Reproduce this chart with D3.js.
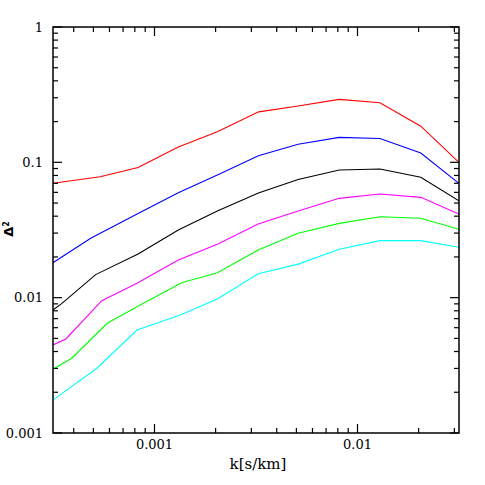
<!DOCTYPE html>
<html>
<head>
<meta charset="utf-8">
<script src="https://cdn.jsdelivr.net/npm/d3@7"></script>
<style>
  body { margin: 0; background: #fff; }
</style>
</head>
<body>
<div id="vis"></div>
<script>

// k values (s/km) and Delta^2 for each curve
var kRed     = [0.000316, 0.00054, 0.00083, 0.00131, 0.00204, 0.00326, 0.0051, 0.00813, 0.0129, 0.0205, 0.0316];
var dRed     = [0.070, 0.0783, 0.0916, 0.130, 0.168, 0.236, 0.261, 0.292, 0.276, 0.185, 0.100];

var kBlue    = [0.000316, 0.000485, 0.00083, 0.00131, 0.00204, 0.00325, 0.0051, 0.00813, 0.0129, 0.0205, 0.0316];
var dBlue    = [0.0181, 0.0275, 0.0419, 0.0597, 0.0807, 0.112, 0.136, 0.153, 0.150, 0.117, 0.070];

var kBlack   = [0.000316, 0.00035, 0.000513, 0.00083, 0.00131, 0.00204, 0.00325, 0.0051, 0.00813, 0.0129, 0.0205, 0.0316];
var dBlack   = [0.00811, 0.00908, 0.0148, 0.0210, 0.0316, 0.0437, 0.0593, 0.0746, 0.0878, 0.0893, 0.0775, 0.0520];

var kMagenta = [0.000316, 0.000366, 0.00055, 0.00082, 0.00131, 0.00204, 0.00324, 0.0051, 0.00813, 0.0129, 0.0205, 0.0316];
var dMagenta = [0.00447, 0.00495, 0.0095, 0.0128, 0.0190, 0.0248, 0.0350, 0.0437, 0.0542, 0.0583, 0.0551, 0.0415];

var kGreen   = [0.000316, 0.000391, 0.000585, 0.00082, 0.00136, 0.00204, 0.00324, 0.0051, 0.00813, 0.0129, 0.0205, 0.0316];
var dGreen   = [0.00296, 0.00357, 0.00647, 0.00858, 0.0129, 0.0153, 0.0225, 0.0299, 0.0354, 0.0396, 0.0386, 0.0320];

var kCyan    = [0.000316, 0.00052, 0.00082, 0.00134, 0.00204, 0.00324, 0.0051, 0.00813, 0.0129, 0.0205, 0.0316];
var dCyan    = [0.00175, 0.00301, 0.00577, 0.00745, 0.00978, 0.0150, 0.0177, 0.0228, 0.0264, 0.0264, 0.0236];

var xTickVals = [0.001, 0.01];
var xTickLabels = ["0.001", "0.01"];
var yTickVals = [0.001, 0.01, 0.1, 1];
var yTickLabels = ["0.001", "0.01", "0.1", "1"];

var series = [
  {k: kRed, d: dRed, color: "#ff0000"},
  {k: kBlue, d: dBlue, color: "#0000ff"},
  {k: kBlack, d: dBlack, color: "#000000"},
  {k: kMagenta, d: dMagenta, color: "#ff00ff"},
  {k: kGreen, d: dGreen, color: "#00ff00"},
  {k: kCyan, d: dCyan, color: "#00ffff"}
];

var serif = "'DejaVu Serif', 'Liberation Serif', serif";

// set the dimensions and margins of the graph
var margin = {top: 27, right: 26, bottom: 52, left: 53},
    width = 485 - margin.left - margin.right,
    height = 485 - margin.top - margin.bottom;

// set the ranges
var x = d3.scaleLog().domain([Math.pow(10, -3.5), Math.pow(10, -1.5)]).range([0, width]);
var y = d3.scaleLog().domain([0.001, 1]).range([height, 0]);

var line = d3.line()
    .x(function(p) { return x(p[0]); })
    .y(function(p) { return y(p[1]); });

var svg = d3.select("#vis").append("svg")
    .attr("width", 485)
    .attr("height", 485)
  .append("g")
    .attr("transform", "translate(" + margin.left + "," + margin.top + ")");

svg.append("clipPath").attr("id", "clip")
  .append("rect").attr("width", width).attr("height", height);

// the curves
svg.append("g").attr("clip-path", "url(#clip)")
  .selectAll("path")
  .data(series)
  .enter().append("path")
    .attr("fill", "none")
    .attr("stroke", function(s) { return s.color; })
    .attr("stroke-width", 1.1)
    .attr("d", function(s) { return line(d3.zip(s.k, s.d)); });

// ticks, all pointing inward, major ones longer
var majorLen = 9, minorLen = 5;
var xAll = x.ticks(20);
var yAll = y.ticks(30);

function isMajor(v) {
  var l = Math.log10(v);
  return Math.abs(l - Math.round(l)) < 1e-6;
}

// bottom and top
[0, height].forEach(function(yy) {
  var dir = yy === 0 ? 1 : -1;
  svg.append("g").selectAll("line")
    .data(xAll)
    .enter().append("line")
      .attr("x1", function(v) { return x(v); })
      .attr("x2", function(v) { return x(v); })
      .attr("y1", yy)
      .attr("y2", function(v) { return yy + dir * (isMajor(v) ? majorLen : minorLen); })
      .attr("stroke", "#000")
      .attr("stroke-width", 1.2);
});

// left and right
[0, width].forEach(function(xx) {
  var dir = xx === 0 ? 1 : -1;
  svg.append("g").selectAll("line")
    .data(yAll)
    .enter().append("line")
      .attr("y1", function(v) { return y(v); })
      .attr("y2", function(v) { return y(v); })
      .attr("x1", xx)
      .attr("x2", function(v) { return xx + dir * (isMajor(v) ? majorLen : minorLen); })
      .attr("stroke", "#000")
      .attr("stroke-width", 1.2);
});

// frame
svg.append("rect")
    .attr("width", width)
    .attr("height", height)
    .attr("fill", "none")
    .attr("stroke", "#000")
    .attr("stroke-width", 1.5);

// tick labels
svg.append("g").selectAll("text")
  .data(xTickVals)
  .enter().append("text")
    .attr("x", function(v) { return x(v); })
    .attr("y", height + 16)
    .attr("text-anchor", "middle")
    .style("font-family", serif)
    .style("font-size", "13px")
    .text(function(v, i) { return xTickLabels[i]; });

svg.append("g").selectAll("text")
  .data(yTickVals)
  .enter().append("text")
    .attr("x", -10)
    .attr("y", function(v) { return y(v); })
    .attr("dy", "0.36em")
    .attr("text-anchor", "end")
    .style("font-family", serif)
    .style("font-size", "13px")
    .text(function(v, i) { return yTickLabels[i]; });

// axis titles
svg.append("text")
    .attr("x", width / 2 + 2)
    .attr("y", height + 36)
    .attr("text-anchor", "middle")
    .style("font-family", serif)
    .style("font-size", "15px")
    .text("k[s/km]");

var ylab = svg.append("text")
    .attr("transform", "translate(" + (-40) + "," + (height / 2 - 1) + ")rotate(-90)")
    .attr("text-anchor", "middle")
    .style("font-family", "'DejaVu Sans', sans-serif")
    .style("font-weight", "bold")
    .style("font-size", "13px");
ylab.append("tspan").text("Δ");
ylab.append("tspan")
    .attr("dy", "-0.45em")
    .style("font-size", "8px")
    .text("2");

</script>
</body>
</html>
